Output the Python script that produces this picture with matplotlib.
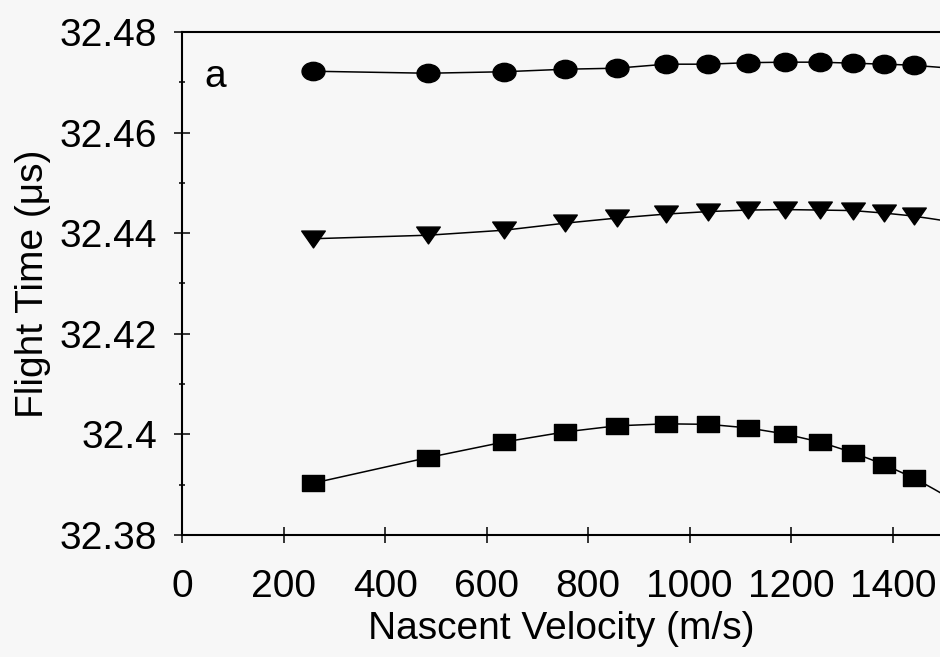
"""Flight time vs. nascent velocity, panel (a): three series with trend lines."""

import matplotlib
matplotlib.use("Agg")
import matplotlib.pyplot as plt
import numpy as np
from matplotlib.path import Path
from matplotlib.ticker import FuncFormatter, MultipleLocator
from matplotlib.transforms import Affine2D

plt.rcParams["font.family"] = ["Liberation Sans", "DejaVu Sans"]
plt.rcParams["font.size"] = 28

# Values
velocity = [258, 485, 635, 755, 856, 953, 1037, 1114, 1187, 1256, 1321, 1383, 1442]

circles = [32.4722, 32.4718, 32.4721, 32.4726, 32.4728, 32.4736, 32.4736,
           32.4739, 32.4740, 32.4740, 32.4738, 32.4736, 32.4734]
triangles = [32.4389, 32.4396, 32.4406, 32.4420, 32.4430, 32.4438, 32.4443,
             32.4446, 32.4447, 32.4446, 32.4445, 32.4440, 32.4434]
squares = [32.3903, 32.3954, 32.3985, 32.4005, 32.4017, 32.4021, 32.4020,
           32.4013, 32.4001, 32.3985, 32.3964, 32.3940, 32.3913]

X_MAX = 1493  # the scan is cut off just short of 1500

# scanned markers are a bit wider than tall
ellipse = Path.unit_circle().transformed(Affine2D().scale(1.25, 1.0))
rect = Path([(-1.35, -1), (1.35, -1), (1.35, 1), (-1.35, 1), (-1.35, -1)],
            closed=True)
tri_down = Path([(-1.4, 1), (1.4, 1), (0, -1), (-1.4, 1)], closed=True)

fig = plt.figure(figsize=(9.4, 6.57), dpi=100, facecolor="#f7f7f7")
ax = fig.add_axes([0.1936, 0.1857, 1 - 0.1936, 0.9513 - 0.1857])
ax.set_facecolor("#f7f7f7")

for ys, mk, ms in [(circles, ellipse, 16.5),
                   (triangles, tri_down, 17),
                   (squares, rect, 16.5)]:
    ax.plot(velocity, ys, "-", color="black", lw=1.1,
            marker=mk, ms=ms, mfc="black", mec="black")
    # short tail beyond the last point, following a cubic trend
    coef = np.polyfit(velocity, ys, 3)
    tail = np.linspace(velocity[-1], X_MAX, 10)
    ax.plot(tail, np.polyval(coef, tail), "-", color="black", lw=1.1)

ax.set_xlim(0, X_MAX)
ax.set_ylim(32.38, 32.48)

ax.xaxis.set_major_locator(MultipleLocator(200))
ax.yaxis.set_major_locator(MultipleLocator(0.02))
ax.yaxis.set_minor_locator(MultipleLocator(0.01))
ax.yaxis.set_major_formatter(FuncFormatter(lambda v, _: f"{v:g}"))
ax.set_xticks(range(0, 1401, 200))

ax.tick_params(axis="both", which="major", direction="inout", length=11.5,
               width=1.1, color="black")
ax.tick_params(axis="x", pad=19)
ax.tick_params(axis="y", pad=12)
ax.tick_params(axis="y", which="minor", direction="inout", length=5, width=1.1)

ax.spines["right"].set_visible(False)
for s in ("left", "bottom", "top"):
    ax.spines[s].set_linewidth(1.5)

ax.set_xlabel("Nascent Velocity (m/s)", labelpad=4)
ax.set_ylabel("Flight Time (\u03bcs)", labelpad=6)

ax.text(0.030, 0.8907, "a", transform=ax.transAxes, ha="left", va="baseline")

fig.savefig("out.png", dpi=100, facecolor=fig.get_facecolor())
